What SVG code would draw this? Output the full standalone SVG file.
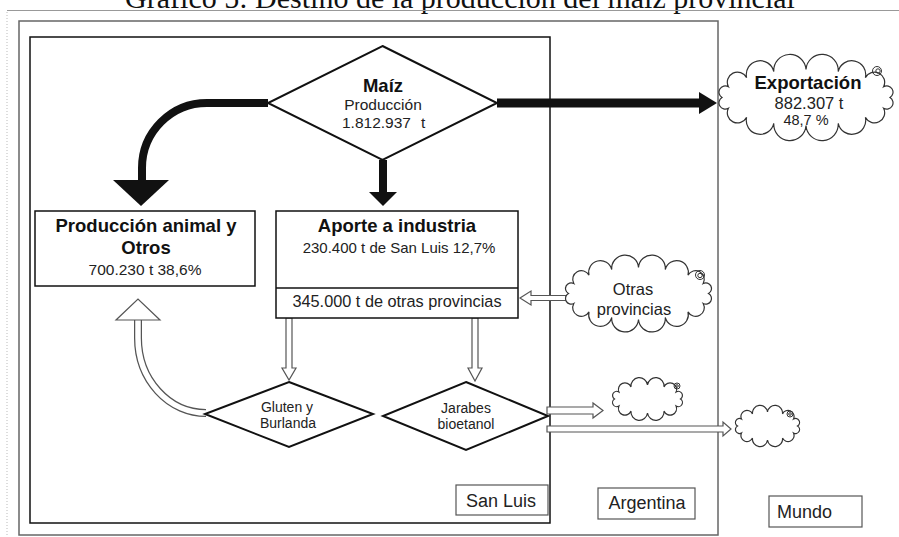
<svg xmlns="http://www.w3.org/2000/svg" width="899" height="537" viewBox="0 0 899 537">
<style>
text{font-family:"Liberation Sans",Arial,sans-serif;fill:#222}
.b{font-weight:bold;fill:#111}
.c{text-anchor:middle}
.box{fill:#fff;stroke:#111;stroke-width:1.5}
.dia{fill:#fff;stroke:#111;stroke-width:2}
.thick{fill:none;stroke:#111}
.head{fill:#111}
.hollow{fill:#fff;stroke:#555;stroke-width:1.2}
.cloud{fill:#fff;stroke:#333;stroke-width:1.2}
.spiral{fill:none;stroke:#333;stroke-width:1}
.lbl{fill:#fff;stroke:#555;stroke-width:1.2}
</style>
<rect width="899" height="537" fill="#fff"/>
<text x="460" y="8" class="c" style="font-family:'Liberation Serif','Times New Roman',serif;font-size:30px;fill:#111">Gráfico 5: Destino de la producción del maíz provincial</text>
<line x1="7" y1="10.5" x2="899" y2="10.5" stroke="#999" stroke-width="1"/>
<line x1="7" y1="12" x2="7" y2="537" stroke="#bbb" stroke-width="1" stroke-dasharray="1,2"/>

<g id="argentina-frame">
<rect x="19" y="21" width="699" height="514" fill="none" stroke="#666" stroke-width="1.5"/>
</g>
<g id="sanluis-frame">
<rect x="30" y="37" width="520" height="486" fill="none" stroke="#111" stroke-width="1.5"/>
</g>

<g id="connectors">
<path class="thick" stroke-width="8" d="M268,103 H207 A65,65 0 0 0 142,168 V182"/>
<polygon class="head" points="113,180 169,180 141,206"/>
<line class="thick" stroke-width="8" x1="383" y1="160" x2="383" y2="194"/>
<polygon class="head" points="369,192 397,192 383,206"/>
<line class="thick" stroke-width="9" x1="497" y1="103" x2="701" y2="103"/>
<polygon class="head" points="699,92 699,114 717,103"/>
<polygon class="hollow" points="566,295.5 531,295.5 531,291 520,298 531,305 531,300.5 566,300.5"/>
<polygon class="hollow" points="286,318 292,318 292,368 296,368 289,380 282,368 286,368"/>
<polygon class="hollow" points="472,318 478,318 478,368 482,368 475,381 468,368 472,368"/>
<path d="M206,413 A68,75 0 0 1 138,338 V319" fill="none" stroke="#555" stroke-width="8"/>
<path d="M206,413 A68,75 0 0 1 138,338 V319" fill="none" stroke="#fff" stroke-width="5.5"/>
<polygon class="hollow" points="116,320 160,320 138,299"/>
<polygon class="hollow" points="547,407 593,407 593,403 603,410.5 593,418 593,414 547,414"/>
<polygon class="hollow" points="547,426 723,426 723,422 731,429 723,436 723,432 547,432"/>
</g>

<g id="maiz">
<polygon class="dia" points="382.5,46 497,103 382.5,160 268,103"/>
<text x="383" y="92" class="b c" style="font-size:18.5px">Maíz</text>
<text x="383" y="110" class="c" style="font-size:15.5px">Producción</text>
<text x="342" y="128" style="font-size:15.5px">1.812.937</text>
<text x="421" y="128" style="font-size:15.5px">t</text>
</g>

<g id="produccion-animal">
<rect class="box" x="35" y="211" width="220" height="75"/>
<text x="146" y="232" class="b c" style="font-size:18.5px">Producción animal y</text>
<text x="146" y="254" class="b c" style="font-size:18.5px">Otros</text>
<text x="145" y="275" class="c" style="font-size:15.5px">700.230 t 38,6%</text>
</g>

<g id="aporte-industria">
<rect class="box" x="276" y="211" width="242" height="107"/>
<line x1="276" y1="288" x2="518" y2="288" stroke="#111" stroke-width="1.5"/>
<text x="397" y="232" class="b c" style="font-size:18.5px">Aporte a industria</text>
<text x="399" y="253" class="c" style="font-size:15px">230.400 t de San Luis 12,7%</text>
<text x="397" y="307" class="c" style="font-size:16.3px">345.000 t de otras provincias</text>
</g>

<g id="exportacion">
<path class="cloud" d="M890,97.5 A1,1 0 0 1 883.6,108.2 A1,1 0 0 1 865.4,117.3 A1,1 0 0 1 838.2,123.4 A1,1 0 0 1 806,125.5 A1,1 0 0 1 773.8,123.4 A1,1 0 0 1 746.6,117.3 A1,1 0 0 1 728.4,108.2 A1,1 0 0 1 722,97.5 A1,1 0 0 1 728.4,86.8 A1,1 0 0 1 746.6,77.7 A1,1 0 0 1 773.8,71.6 A1,1 0 0 1 806,69.5 A1,1 0 0 1 838.2,71.6 A1,1 0 0 1 865.4,77.7 A1,1 0 0 1 883.6,86.8 A1,1 0 0 1 890,97.5 Z"/>
<circle class="spiral" cx="877" cy="71" r="4.5"/>
<circle class="spiral" cx="878" cy="71" r="2.2"/>
<text x="808" y="89" class="b c" style="font-size:18.5px">Exportación</text>
<text x="809" y="109" class="c" style="font-size:16.5px">882.307 t</text>
<text x="806" y="125" class="c" style="font-size:14.5px">48,7 %</text>
</g>

<g id="otras-provincias">
<path class="cloud" d="M708.5,293.5 A1,1 0 0 1 703.2,303.5 A1,1 0 0 1 688,311.9 A1,1 0 0 1 665.3,317.5 A1,1 0 0 1 638.5,319.5 A1,1 0 0 1 611.7,317.5 A1,1 0 0 1 589,311.9 A1,1 0 0 1 573.8,303.5 A1,1 0 0 1 568.5,293.5 A1,1 0 0 1 573.8,283.5 A1,1 0 0 1 589,275.1 A1,1 0 0 1 611.7,269.5 A1,1 0 0 1 638.5,267.5 A1,1 0 0 1 665.3,269.5 A1,1 0 0 1 688,275.1 A1,1 0 0 1 703.2,283.5 A1,1 0 0 1 708.5,293.5 Z"/>
<circle class="spiral" cx="700" cy="275" r="4.5"/>
<circle class="spiral" cx="700" cy="275.5" r="2.2"/>
<text x="633" y="295" class="c" style="font-size:16.5px">Otras</text>
<text x="634" y="315" class="c" style="font-size:16.5px">provincias</text>
</g>

<g id="gluten-burlanda">
<polygon class="dia" points="289,382 373,414 289,447 205,414"/>
<text x="287" y="412" class="c" style="font-size:14px">Gluten y</text>
<text x="288" y="428" class="c" style="font-size:14px">Burlanda</text>
</g>

<g id="jarabes-bioetanol">
<polygon class="dia" points="466,382 548,416 466,450 383,416"/>
<text x="466" y="413" class="c" style="font-size:14px">Jarabes</text>
<text x="466" y="429" class="c" style="font-size:14px">bioetanol</text>
</g>

<g id="cloud-argentina">
<path class="cloud" d="M680.5,399 A1,1 0 0 1 676.1,406 A1,1 0 0 1 664,411.1 A1,1 0 0 1 647.5,413 A1,1 0 0 1 631,411.1 A1,1 0 0 1 618.9,406 A1,1 0 0 1 614.5,399 A1,1 0 0 1 618.9,392 A1,1 0 0 1 631,386.9 A1,1 0 0 1 647.5,385 A1,1 0 0 1 664,386.9 A1,1 0 0 1 676.1,392 A1,1 0 0 1 680.5,399 Z"/>
<circle class="spiral" cx="677" cy="386" r="3"/>
<circle class="spiral" cx="677" cy="386" r="1.3"/>
</g>

<g id="cloud-mundo">
<path class="cloud" d="M797.5,426 A1,1 0 0 1 793.5,433 A1,1 0 0 1 782.5,438.1 A1,1 0 0 1 767.5,440 A1,1 0 0 1 752.5,438.1 A1,1 0 0 1 741.5,433 A1,1 0 0 1 737.5,426 A1,1 0 0 1 741.5,419 A1,1 0 0 1 752.5,413.9 A1,1 0 0 1 767.5,412 A1,1 0 0 1 782.5,413.9 A1,1 0 0 1 793.5,419 A1,1 0 0 1 797.5,426 Z"/>
<circle class="spiral" cx="790" cy="414" r="3"/>
<circle class="spiral" cx="790" cy="414" r="1.3"/>
</g>

<g id="label-sanluis">
<rect class="lbl" x="456" y="485" width="92" height="30"/>
<text x="501" y="507" class="c" style="font-size:18px">San Luis</text>
</g>
<g id="label-argentina">
<rect class="lbl" x="598" y="488" width="97" height="31"/>
<text x="647" y="509" class="c" style="font-size:18px">Argentina</text>
</g>
<g id="label-mundo">
<rect class="lbl" x="769" y="496" width="93" height="31"/>
<text x="777" y="518" style="font-size:18px">Mundo</text>
</g>
</svg>
